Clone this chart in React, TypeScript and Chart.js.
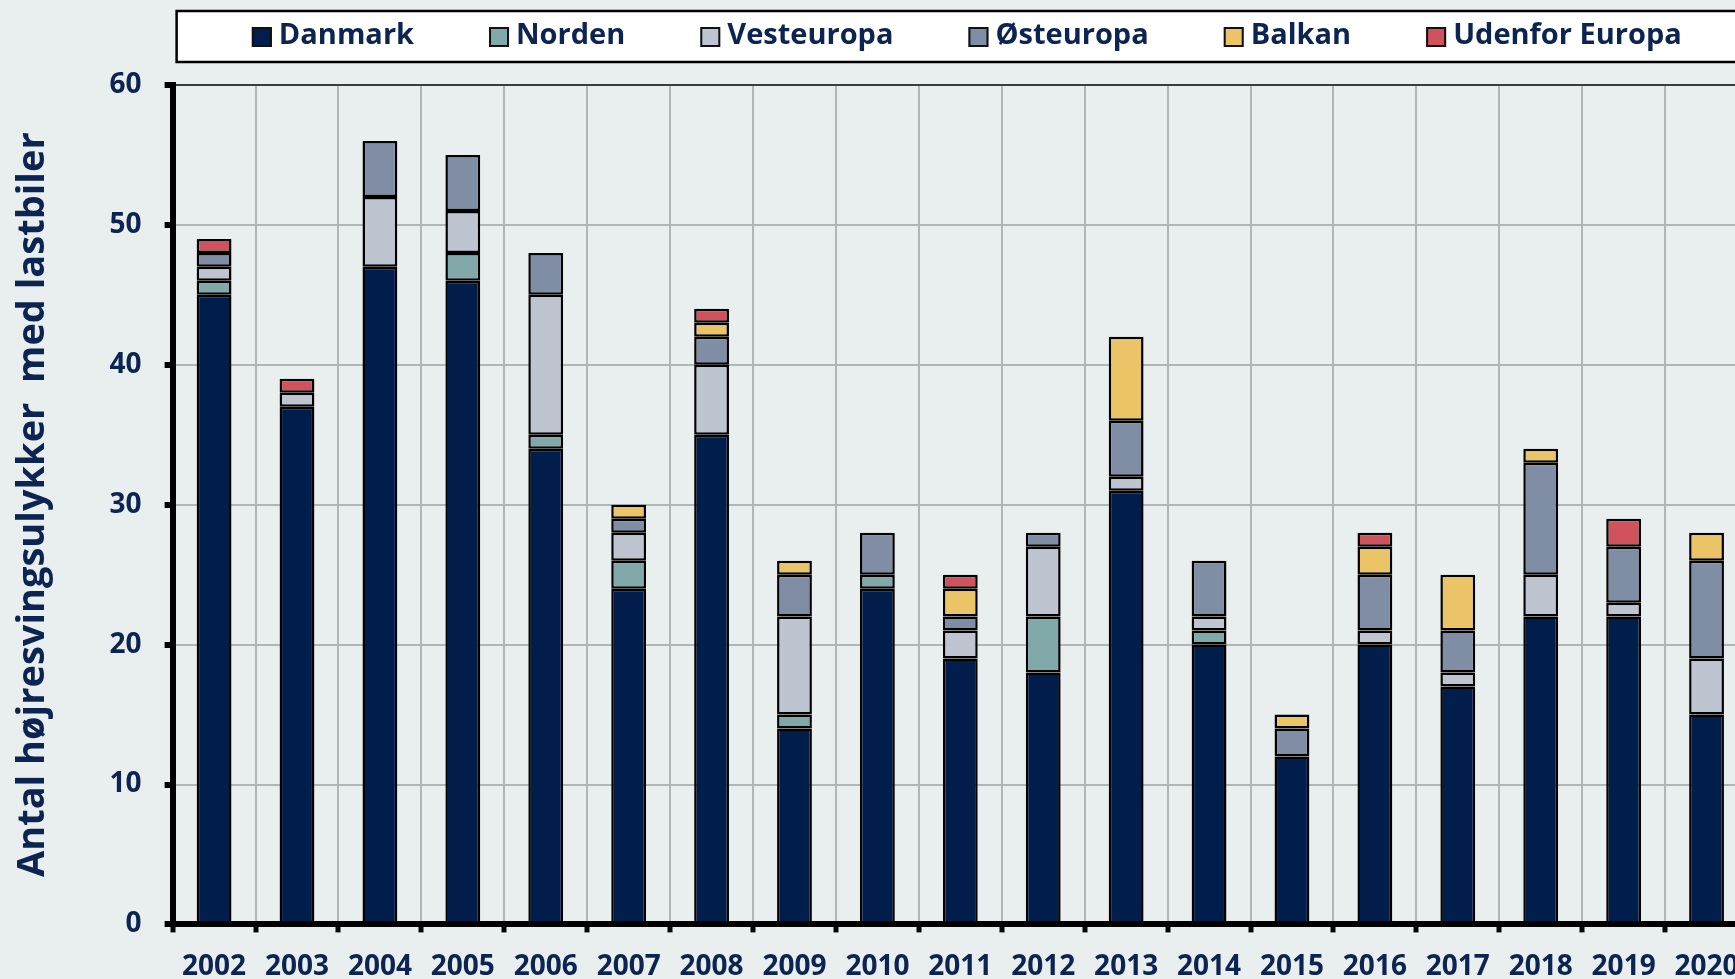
import React, { useEffect, useRef } from "react";
import { Chart, registerables } from "chart.js";

Chart.register(...registerables);

const years = ["2002", "2003", "2004", "2005", "2006", "2007", "2008", "2009", "2010", "2011", "2012", "2013", "2014", "2015", "2016", "2017", "2018", "2019", "2020"];
const danmark = [45, 37, 47, 46, 34, 24, 35, 14, 24, 19, 18, 31, 20, 12, 20, 17, 22, 22, 15];
const norden = [1, 0, 0, 2, 1, 2, 0, 1, 1, 0, 4, 0, 1, 0, 0, 0, 0, 0, 0];
const vesteuropa = [1, 1, 5, 3, 10, 2, 5, 7, 0, 2, 5, 1, 1, 0, 1, 1, 3, 1, 4];
const osteuropa = [1, 0, 4, 4, 3, 1, 2, 3, 3, 1, 1, 4, 4, 2, 4, 3, 8, 4, 7];
const balkan = [0, 0, 0, 0, 0, 1, 1, 1, 0, 2, 0, 6, 0, 1, 2, 4, 1, 0, 2];
const udenfor = [1, 1, 0, 0, 0, 0, 1, 0, 0, 1, 0, 0, 0, 0, 1, 0, 0, 2, 0];

const seriesNames = ["Danmark", "Norden", "Vesteuropa", "Østeuropa", "Balkan", "Udenfor Europa"];
const seriesColors = ["#011d4c", "#82a9aa", "#bfc5d0", "#808ea5", "#ebc468", "#d0525d"];
const yTitle = "Antal højresvingsulykker  med lastbiler";

const TEXT = "#0b2452";
const BG = "#e9eeee";
const FONT = "'Open Sans', 'DejaVu Sans', sans-serif";

const legendBoxPlugin = {
  id: "legendBox",
  afterDraw(chart: any) {
    const ctx = chart.ctx;
    const ca = chart.chartArea;
    const left = ca.left + 4;
    const right = chart.width - 3;
    const top = 11;
    const bottom = 62;
    ctx.save();
    ctx.fillStyle = "#ffffff";
    ctx.fillRect(left, top, right - left, bottom - top);
    ctx.strokeStyle = "#000000";
    ctx.lineWidth = 2.5;
    ctx.strokeRect(left, top, right - left, bottom - top);
    ctx.font = "bold 29px " + FONT;
    ctx.textBaseline = "middle";
    ctx.textAlign = "left";
    const box = 20;
    const gap = 7;
    const spacing = 75;
    const widths = seriesNames.map((n) => box + gap + ctx.measureText(n).width);
    const total = widths.reduce((a, b) => a + b, 0) + spacing * (seriesNames.length - 1);
    let x = (left + right) / 2 - total / 2;
    const cy = 37;
    seriesNames.forEach((n, i) => {
      ctx.fillStyle = seriesColors[i];
      ctx.fillRect(x, cy - box / 2, box, box);
      ctx.strokeStyle = "#111";
      ctx.lineWidth = 2;
      ctx.strokeRect(x + 1, cy - box / 2 + 1, box - 2, box - 2);
      ctx.fillStyle = TEXT;
      ctx.fillText(n, x + box + gap, cy - 1);
      x += widths[i] + spacing;
    });
    ctx.restore();
  },
};

export default function App() {
  const ref = useRef<HTMLCanvasElement | null>(null);
  useEffect(() => {
    if (!ref.current) return;
    const values = [danmark, norden, vesteuropa, osteuropa, balkan, udenfor];
    const chart = new Chart(ref.current, {
      type: "bar",
      data: {
        labels: years,
        datasets: seriesNames.map((name, i) => ({
          label: name,
          data: values[i].map((v) => (v === 0 ? null : v)),
          backgroundColor: seriesColors[i],
          borderColor: "#000000",
          borderWidth: 2.5,
          borderSkipped: false,
          barPercentage: 0.42,
          categoryPercentage: 1,
        })),
      },
      options: {
        responsive: false,
        animation: false,
        maintainAspectRatio: false,
        layout: { padding: { top: 85, right: 12, left: 0, bottom: 0 } },
        plugins: {
          legend: { display: false },
          tooltip: { enabled: false },
          title: { display: false },
        },
        scales: {
          x: {
            stacked: true,
            grid: {
              offset: true,
              color: "#b0b5b7",
              lineWidth: 2,
              tickColor: "#000000",
              tickLength: 8,
              tickWidth: 5,
            },
            border: { color: "#000000", width: 6 },
            ticks: {
              color: TEXT,
              padding: 18,
              maxRotation: 0,
              autoSkip: false,
              font: { family: FONT, size: 28, weight: "bold", lineHeight: 1.2 },
            },
          },
          y: {
            stacked: true,
            min: 0,
            max: 60,
            grid: {
              color: (c: any) => (c.tick && c.tick.value === 60 ? "#3c3c3c" : "#b0b5b7"),
              lineWidth: 2,
              tickColor: "#000000",
              tickLength: 8,
              tickWidth: 6,
            },
            border: { color: "#000000", width: 6 },
            ticks: {
              stepSize: 10,
              color: TEXT,
              padding: 23,
              font: { family: FONT, size: 28, weight: "bold", lineHeight: 1.2 },
            },
            title: {
              display: true,
              text: yTitle,
              color: TEXT,
              font: { family: FONT, size: 38, weight: "bold", lineHeight: 1.2 },
              padding: { top: 10, bottom: 31 },
            },
          },
        },
      },
      plugins: [legendBoxPlugin],
    });
    return () => chart.destroy();
  }, []);

  return (
    <div style={{ position: "fixed", left: 0, top: 0, width: "1735px", height: "979px", overflow: "hidden", background: BG }}>
      <canvas ref={ref} width={1760} height={1002} style={{ display: "block", position: "absolute", left: 0, top: 0 }} />
    </div>
  );
}
